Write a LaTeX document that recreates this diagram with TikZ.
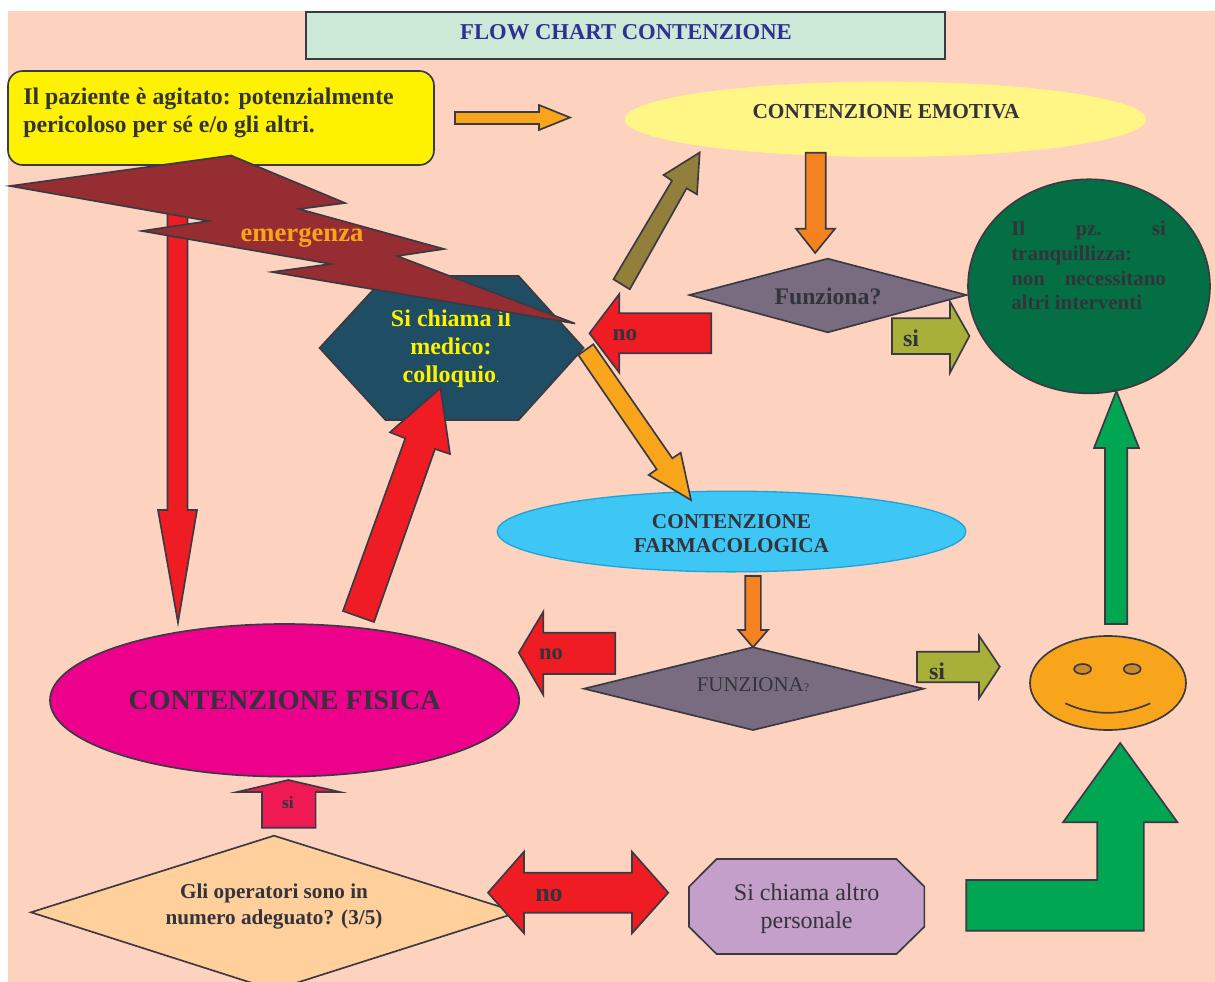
\documentclass[tikz,border=0pt]{standalone}
\usepackage{fontspec}
\setmainfont{Liberation Serif}
\usetikzlibrary{shapes.geometric}
\definecolor{sfondo}{HTML}{FDD2BF}
\definecolor{bordo}{HTML}{3A3A42}
\definecolor{scuro}{HTML}{33333B}
\definecolor{rosso}{HTML}{EF1C24}
\definecolor{arancio}{HTML}{F9A51B}
\definecolor{aranciod}{HTML}{F58220}
\definecolor{verdeb}{HTML}{00A651}
\definecolor{oliva}{HTML}{A8B039}
\definecolor{grigio}{HTML}{7A6C80}
\definecolor{menta}{HTML}{CCE8D6}
\definecolor{blutitolo}{HTML}{2E3192}
\definecolor{giallo}{HTML}{FFF200}
\definecolor{giallop}{HTML}{FFF685}
\definecolor{petrolio}{HTML}{1F4D63}
\definecolor{mattone}{HTML}{952D33}
\definecolor{bruno}{HTML}{917F3B}
\definecolor{verdes}{HTML}{046F45}
\definecolor{azzurro}{HTML}{3EC6F4}
\definecolor{azzurrob}{HTML}{1BA5DB}
\definecolor{magenta}{HTML}{EC008C}
\definecolor{cremisi}{HTML}{EF1A53}
\definecolor{pesca}{HTML}{FFCF9C}
\definecolor{lilla}{HTML}{C49FC9}
\definecolor{occhio}{HTML}{C98A2E}
\tikzset{
	forma/.style={draw=bordo, line width=1.25pt, line join=miter},
	testo/.style={text=scuro, align=center, inner sep=0pt},
	grassetto/.style 2 args={font=\bfseries\fontsize{#1}{#2}\selectfont},
	tondo/.style 2 args={font=\mdseries\fontsize{#1}{#2}\selectfont},
}
\begin{document}
\begin{tikzpicture}[x=0.75pt,y=-0.75pt]
	\useasboundingbox (0,0) rectangle (1215,982);
	\fill[sfondo] (8,11) rectangle (1215,982);
	% titolo
	\draw[forma, fill=menta] (306,12) rectangle (945,59);
	\node[testo, grassetto={17pt}{20pt}, text=blutitolo] (titolo) at (626,32) {FLOW CHART CONTENZIONE};
	% riquadro giallo e freccia rossa verticale
	\draw[forma, fill=rosso] (167.5,165) -- (187.5,165) -- (187.5,510) -- (197,510) -- (178,622.5) -- (158,510) -- (167.5,510) -- cycle;
	\draw[forma, fill=giallo, rounded corners=11pt] (8,71) rectangle (434,165);
	\node[testo, grassetto={17.9pt}{21pt}, align=left, anchor=north west] (paziente) at (23,88) {Il paziente è agitato: potenzialmente\\pericoloso per sé e/o gli altri.};
	\draw[forma, fill=arancio] (455,112) -- (539,112) -- (539,105) -- (570,117.5) -- (539,130) -- (539,124) -- (455,124) -- cycle;
	% contenzione emotiva
	\node[ellipse, fill=giallop, minimum width=391pt, minimum height=56.5pt, inner sep=0pt] (emotiva) at (885.4,119.3) {};
	\node[testo, grassetto={16pt}{19pt}] (lblEmotiva) at (886,112) {CONTENZIONE EMOTIVA};
	\draw[forma, fill=aranciod] (805.6,152.7) -- (825.7,152.7) -- (825.7,228.7) -- (835,228.7) -- (815.2,253) -- (796,228.7) -- (805.6,228.7) -- cycle;
	% esagono medico
	\draw[forma, fill=petrolio] (319.6,348) -- (386,276) -- (518.6,276) -- (583.6,348) -- (518.6,420) -- (385.5,420) -- cycle;
	\node[testo, grassetto={18pt}{21pt}, text=giallo] (medico) at (451,349) {Si chiama il\\medico:\\colloquio{\mdseries\fontsize{10pt}{12pt}\selectfont.}};
	% fulmine
	\draw[forma, fill=mattone] (10,186) -- (231,155.5) -- (345,203) -- (299,209) -- (444,249) -- (397,256) -- (575,323.5) -- (272,272) -- (331,264) -- (142,231) -- (208.6,221) -- cycle;
	\node[testo, grassetto={20pt}{24pt}, text=arancio] (emergenza) at (302,238) {emergenza};
	% frecce diagonali
	\draw[forma, fill=bruno] (613.5,279.3) -- (672,180.7) -- (663.6,175) -- (699.7,152.5) -- (697,194.3) -- (686.6,188.3) -- (629.8,289.3) -- cycle;
	\draw[forma, fill=rosso] (711.2,313.3) -- (619.3,313.3) -- (619.3,294) -- (589.5,333.3) -- (619.3,372.7) -- (619.3,353.3) -- (711.2,353.3) -- cycle;
	\node[testo, grassetto={17.5pt}{20pt}] (no1) at (625,335) {no};
	% funziona?
	\draw[forma, fill=grigio] (689.5,295) -- (827.8,258.7) -- (966.4,295) -- (827.8,332.3) -- cycle;
	\node[testo, grassetto={17.8pt}{21pt}] (lblFunziona) at (828,296) {Funziona?};
	% paziente tranquillo
	\draw[forma, fill=verdes] (1089,286.3) ellipse (121 and 107);
	\node[testo, grassetto={15.7pt}{18.5pt}, align=left, anchor=north west] (tranquillo) at (1011,221) {\makebox[116pt][s]{Il pz.\ si}\\tranquillizza:\\\makebox[116pt][s]{non necessitano}\\altri interventi};
	\draw[forma, fill=oliva] (892,318.3) -- (950,318.3) -- (950,301.7) -- (969.4,336) -- (950,372.7) -- (950,354) -- (892,354) -- cycle;
	\node[testo, grassetto={18pt}{21pt}] (si1) at (911,338) {si};
	% contenzione farmacologica
	\node[ellipse, draw=azzurrob, line width=1pt, fill=azzurro, minimum width=351.5pt, minimum height=60.5pt, inner sep=0pt] (farmaco) at (731.5,531.5) {};
	\node[testo, grassetto={15.9pt}{18pt}] (lblFarmaco) at (731.5,534) {CONTENZIONE\\FARMACOLOGICA};
	\draw[forma, fill=arancio] (578.3,355) -- (593.3,344.3) -- (672.3,458.3) -- (680.7,452.7) -- (691,500) -- (648.7,475) -- (656.7,469.3) -- cycle;
	\draw[forma, fill=aranciod] (745.3,576) -- (760.9,576) -- (760.9,630) -- (768,630) -- (753,647.3) -- (738.2,630) -- (745.3,630) -- cycle;
	\draw[forma, fill=grigio] (584,688.7) -- (753,647.3) -- (923.5,688.7) -- (753,730) -- cycle;
	\node[testo, tondo={15.7pt}{19pt}] (lblFunzionaB) at (753,685) {FUNZIONA{\fontsize{9pt}{11pt}\selectfont ?}};
	\draw[forma, fill=rosso] (615.2,632.7) -- (543.3,632.7) -- (543.3,611.7) -- (518.8,652.7) -- (543.3,695) -- (543.3,674) -- (615.2,674) -- cycle;
	\node[testo, grassetto={17pt}{20pt}] (no2) at (551,654) {no};
	\draw[forma, fill=oliva] (917,651.7) -- (979,651.7) -- (979,635.7) -- (999.8,666.7) -- (979,698.3) -- (979,682.3) -- (917,682.3) -- cycle;
	\node[testo, grassetto={18pt}{21pt}] (si2) at (937,671) {si};
	% contenzione fisica
	\draw[forma, fill=magenta] (284.6,700.3) ellipse (234.6 and 76.3);
	\node[testo, grassetto={21pt}{25pt}] (fisica) at (284.6,700) {CONTENZIONE FISICA};
	\draw[forma, fill=rosso] (343,611) -- (405.3,438.3) -- (390,432.3) -- (440.5,388) -- (450,454) -- (435,449) -- (374,622) -- cycle;
	\draw[forma, fill=cremisi] (262,827.7) -- (262,792) -- (237,792) -- (288.4,780) -- (340,792) -- (315.6,792) -- (315.6,827.7) -- cycle;
	\node[testo, grassetto={13pt}{15pt}] (si3) at (288,803) {si};
	% domanda operatori
	\draw[forma, fill=pesca] (31,912.3) -- (274,835.7) -- (518,912.3) -- (274,990) -- cycle;
	\node[testo, grassetto={15.9pt}{19.5pt}] (operatori) at (274,906) {Gli operatori sono in\\numero adeguato? (3/5)};
	\draw[forma, fill=rosso] (488,892.7) -- (524,851.7) -- (524,872.7) -- (632,872.7) -- (632,851.7) -- (668.3,892.7) -- (632,933.3) -- (632,912.7) -- (524,912.7) -- (524,933.3) -- cycle;
	\node[testo, grassetto={19.5pt}{23pt}] (no3) at (549,895) {no};
	% altro personale
	\draw[forma, fill=lilla] (689,886.7) -- (716.6,859) -- (896.5,859) -- (924.4,886.7) -- (924.4,926.7) -- (896.5,954) -- (716.6,954) -- (689,926.7) -- cycle;
	\node[testo, tondo={18pt}{21pt}] (personale) at (806.6,909) {Si chiama altro\\personale};
	\draw[forma, fill=verdeb] (966.2,880) -- (1097.2,880) -- (1097.2,822.3) -- (1063,822.3) -- (1120.2,743) -- (1177.5,822.3) -- (1143.9,822.3) -- (1143.9,930.7) -- (966.2,930.7) -- cycle;
	% faccina
	\draw[forma, fill=arancio] (1108,683) ellipse (78 and 47);
	\draw[forma, fill=occhio] (1082.6,669) ellipse (8.5 and 5);
	\draw[forma, fill=occhio] (1132.2,669) ellipse (8.5 and 5);
	\draw[forma] (1065.3,703.3) .. controls (1093,716) and (1122,716) .. (1150.3,703.3);
	\draw[forma, fill=verdeb] (1105,624) -- (1105,448) -- (1094,448) -- (1116.4,391) -- (1139,448) -- (1127.3,448) -- (1127.3,624) -- cycle;
\end{tikzpicture}
\end{document}
